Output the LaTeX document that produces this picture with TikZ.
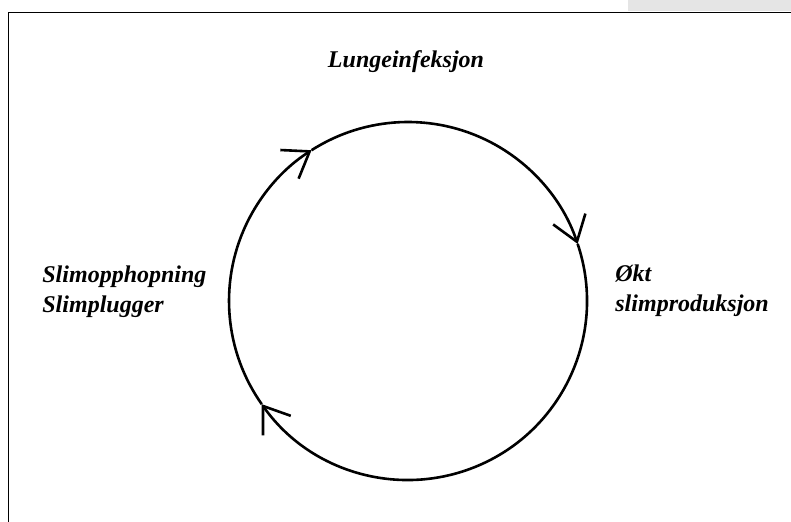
\documentclass[tikz,border=0pt]{standalone}
\usepackage{fontspec}
\setmainfont{Liberation Serif}
\usetikzlibrary{arrows.meta}

\begin{document}
\begin{tikzpicture}[x=0.5pt, y=0.5pt,
  etiqueta/.style={font=\fontsize{12}{15}\selectfont\bfseries\itshape, inner sep=0pt},
  ciclo/.style={line width=1.3pt, -{Straight Barb[length=12pt,width=17pt]}}]
  \useasboundingbox (0,0) rectangle (791,522);

  % Marco
  \fill[black!10] (628,511) rectangle (791,522);
  \draw[line width=0.9pt] (791,509.5) -- (8.5,509.5) -- (8.5,0);

  % Circulo con flechas (sentido horario)
  \coordinate (centro) at (408,221);
  \foreach \a/\b in {215.2/122.6, 122.6/18.6, 18.6/-144.8}
    \draw[ciclo] (centro) ++(\a:179) arc[start angle=\a, end angle=\b, radius=179];

  % Etiquetas
  \node[etiqueta, anchor=base] (lunge) at (406,454) {Lungeinfeksjon};
  \node[etiqueta, anchor=base west, align=left] (slim) at (42,209) {Slimopphopning\\Slimplugger};
  \node[etiqueta, anchor=base west, align=left] (okt) at (615,210) {Økt\\slimproduksjon};
\end{tikzpicture}
\end{document}
